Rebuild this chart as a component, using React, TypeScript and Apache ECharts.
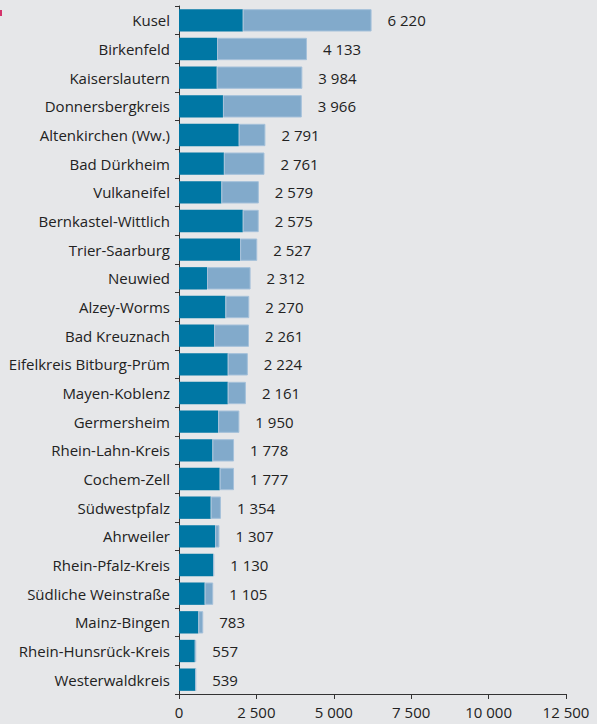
import React, { useEffect, useRef } from "react";
import * as echarts from "echarts";

const categories = [
  "Kusel",
  "Birkenfeld",
  "Kaiserslautern",
  "Donnersbergkreis",
  "Altenkirchen (Ww.)",
  "Bad Dürkheim",
  "Vulkaneifel",
  "Bernkastel-Wittlich",
  "Trier-Saarburg",
  "Neuwied",
  "Alzey-Worms",
  "Bad Kreuznach",
  "Eifelkreis Bitburg-Prüm",
  "Mayen-Koblenz",
  "Germersheim",
  "Rhein-Lahn-Kreis",
  "Cochem-Zell",
  "Südwestpfalz",
  "Ahrweiler",
  "Rhein-Pfalz-Kreis",
  "Südliche Weinstraße",
  "Mainz-Bingen",
  "Rhein-Hunsrück-Kreis",
  "Westerwaldkreis",
];

const totals = [
  6220, 4133, 3984, 3966, 2791, 2761, 2579, 2575, 2527, 2312, 2270, 2261, 2224,
  2161, 1950, 1778, 1777, 1354, 1307, 1130, 1105, 783, 557, 539,
];

const darkValues = [
  2060, 1230, 1220, 1420, 1930, 1450, 1370, 2060, 1975, 905, 1500, 1135, 1575,
  1575, 1265, 1080, 1315, 1025, 1165, 1110, 830, 625, 510, 539,
];

const lightValues = totals.map((t, i) => t - darkValues[i]);

const axisMin = 0;
const axisMax = 12500;
const axisInterval = 2500;

const fmt = (v: number) =>
  String(v).replace(/\B(?=(\d{3})+(?!\d))/g, "\u00a0");

const FONT = "'Open Sans', 'Noto Sans', sans-serif";
const BG = "#e6e7e9";

export default function App() {
  const ref = useRef<HTMLDivElement>(null);

  useEffect(() => {
    document.body.style.margin = "0";
    if (!ref.current) return;
    const chart = echarts.init(ref.current, null, { renderer: "svg" });
    chart.setOption({
      animation: false,
      backgroundColor: BG,
      textStyle: { fontFamily: FONT },
      grid: { left: 179, right: 31, top: 6, bottom: 30, containLabel: false },
      xAxis: {
        type: "value",
        min: axisMin,
        max: axisMax,
        interval: axisInterval,
        splitLine: { show: false },
        axisLine: { show: true, lineStyle: { color: "#333", width: 1 } },
        axisTick: { show: true, length: 5, lineStyle: { color: "#333" } },
        axisLabel: {
          color: "#222",
          fontSize: 15,
          fontFamily: FONT,
          margin: 10,
          formatter: (v: number) => fmt(v),
        },
      },
      yAxis: {
        type: "category",
        data: categories,
        inverse: true,
        axisLine: { show: true, lineStyle: { color: "#333", width: 1 } },
        axisTick: { show: true, length: 4, lineStyle: { color: "#333" } },
        axisLabel: {
          color: "#222",
          fontSize: 15,
          fontFamily: FONT,
          margin: 9,
        },
      },
      series: [
        {
          type: "bar",
          stack: "s",
          data: darkValues,
          barCategoryGap: "22%",
          itemStyle: { color: "#0077a4" },
        },
        {
          type: "bar",
          stack: "s",
          data: lightValues,
          itemStyle: { color: "#82aacb", borderColor: "#a5c1da", borderWidth: 1 },
          label: {
            show: true,
            position: "right",
            distance: 16,
            color: "#222",
            fontSize: 15,
            fontFamily: FONT,
            formatter: (p: any) => fmt(totals[p.dataIndex]),
          },
        },
      ],
      graphic: [
        {
          type: "rect",
          shape: { x: 0, y: 10, width: 2, height: 6 },
          style: { fill: "#d4336b" },
        },
      ],
    });
    return () => chart.dispose();
  }, []);

  return (
    <div
      ref={ref}
      style={{
        position: "absolute",
        left: 0,
        top: 0,
        width: 597,
        height: 724,
        background: BG,
      }}
    />
  );
}
